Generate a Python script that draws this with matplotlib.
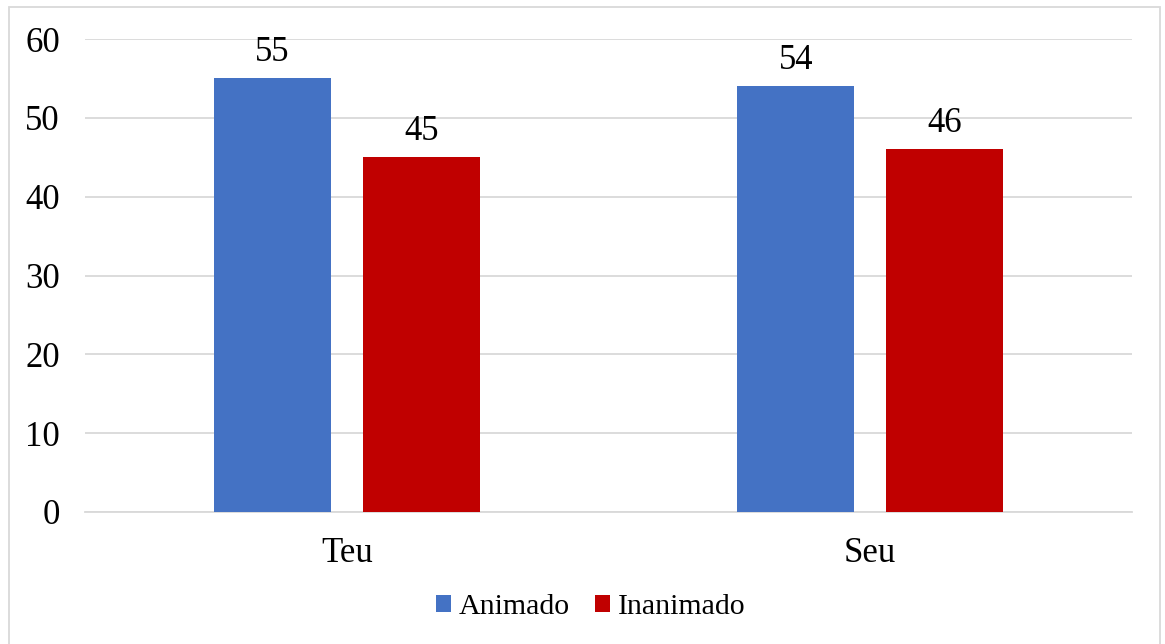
import matplotlib
matplotlib.use("Agg")
import matplotlib.pyplot as plt
import numpy as np
from matplotlib.patches import Rectangle

categories = ["Teu", "Seu"]
animado = [55, 54]
inanimado = [45, 46]
series_names = ["Animado", "Inanimado"]
yticks = [0, 10, 20, 30, 40, 50, 60]

BLUE = "#4472C4"
RED = "#C00000"
GRID = "#D9D9D9"
FS = 25

plt.rcParams["font.family"] = ["Liberation Serif", "DejaVu Serif"]

W, H = 1165, 644
fig = plt.figure(figsize=(W / 100, H / 100), dpi=100)
ax = fig.add_axes([85 / W, 1 - 512 / H, (1132 - 85) / W, (512 - 39) / H])

# outer chart border
fig.patches.append(Rectangle((8.5 / W, -0.01), (1151 / W), 1 - 6.5 / H + 0.01,
                             transform=fig.transFigure, fill=False,
                             edgecolor=GRID, lw=1.3))

x = np.arange(len(categories))
width = 0.2235
off = 0.1423
b1 = ax.bar(x - off, animado, width, color=BLUE, label=series_names[0], zorder=3)
b2 = ax.bar(x + off, inanimado, width, color=RED, label=series_names[1], zorder=3)
ax.bar_label(b1, fontsize=FS, padding=7)
ax.bar_label(b2, fontsize=FS, padding=7)

ax.set_xlim(-0.5, 1.5)
ax.set_ylim(0, 60)
ax.set_yticks(yticks)
ax.set_xticks(x)
ax.set_xticklabels(categories)
ax.grid(axis="y", color=GRID, lw=1.3, zorder=0)
for s in ["top", "right", "left"]:
    ax.spines[s].set_visible(False)
ax.spines["bottom"].set_color(GRID)
ax.spines["bottom"].set_linewidth(1.3)
ax.tick_params(axis="both", length=0, labelsize=FS)
ax.tick_params(axis="y", pad=18)
ax.tick_params(axis="x", pad=18)

fig.legend(loc="center", bbox_to_anchor=(0.507, 1 - 607 / H), ncol=2, frameon=False,
           fontsize=21.5, handlelength=0.5, handleheight=0.5, handletextpad=0.28,
           columnspacing=0.82)

fig.savefig("out.png", dpi=100)
